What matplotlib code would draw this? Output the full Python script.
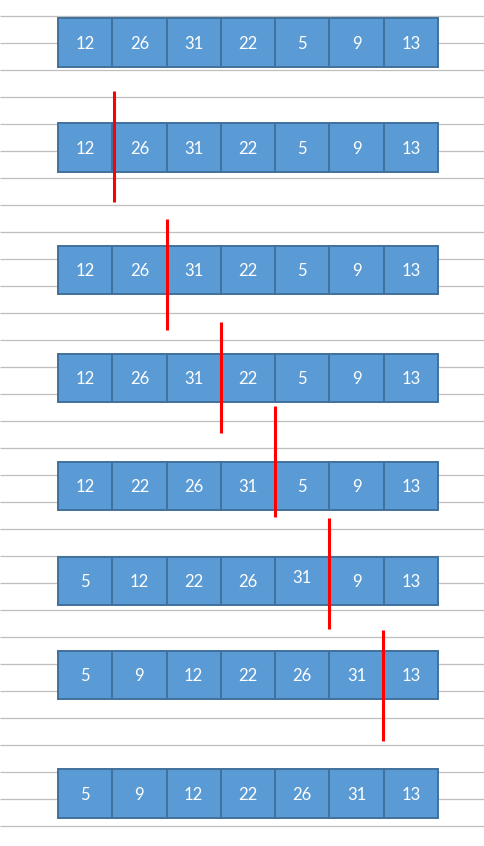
import numpy as np
import matplotlib
matplotlib.use("Agg")
import matplotlib.pyplot as plt
from matplotlib.patches import Rectangle

# values in each row, top to bottom (insertion sort steps)
rows = [
    [12, 26, 31, 22, 5, 9, 13],
    [12, 26, 31, 22, 5, 9, 13],
    [12, 26, 31, 22, 5, 9, 13],
    [12, 26, 31, 22, 5, 9, 13],
    [12, 22, 26, 31, 5, 9, 13],
    [5, 12, 22, 26, 31, 9, 13],
    [5, 9, 12, 22, 26, 31, 13],
    [5, 9, 12, 22, 26, 31, 13],
]
# sorted/unsorted boundary shown by each red marker (cell index)
marker_bounds = [1, 2, 3, 4, 5, 6]

# layout (pixels)
W, H = 484, 846
X0 = 58
CELL_W = 380 / 7
CELL_H = 48.5
ROW_TOP = [18.3, 123.3, 245.8, 353.8, 461.8, 556.8, 650.8, 769.3]
MARKER_SPAN = [(91, 202), (219, 330), (322, 433), (406, 517), (518, 629), (630, 741)]
MARKER_NUDGE = [1.6, 0.4, 0.4, 0.2, -0.4, -0.7]
GRID_Y = np.arange(16, 827, 27)
TEXT_NUDGE = {(5, 4): -4}

FILL = "#5B9BD5"
EDGE = "#41719C"
GRID = "#BFBFBF"
RED = "#FF0000"

fig = plt.figure(figsize=(W / 100, H / 100), dpi=100)
ax = fig.add_axes([0, 0, 1, 1])
ax.set_xlim(0, W)
ax.set_ylim(H, 0)
ax.axis("off")

for y in GRID_Y:
    ax.plot([0, W], [y, y], color=GRID, lw=0.9, zorder=1, solid_capstyle="butt")

for r, (vals, top) in enumerate(zip(rows, ROW_TOP)):
    for c, v in enumerate(vals):
        x = X0 + c * CELL_W
        ax.add_patch(Rectangle((x, top), CELL_W, CELL_H, facecolor=FILL,
                               edgecolor=EDGE, lw=1.4, zorder=2))
        ty = top + CELL_H / 2 + 1.2 + TEXT_NUDGE.get((r, c), 0)
        ax.text(x + CELL_W / 2, ty, str(v), color="white", fontsize=12,
                family=["Lato", "DejaVu Sans"], ha="center", va="center", zorder=3)

for k, (y0, y1), dx in zip(marker_bounds, MARKER_SPAN, MARKER_NUDGE):
    x = X0 + k * CELL_W + dx
    ax.plot([x, x], [y0, y1], color=RED, lw=2.2, zorder=4, solid_capstyle="butt")

fig.savefig("out.png", dpi=100)
